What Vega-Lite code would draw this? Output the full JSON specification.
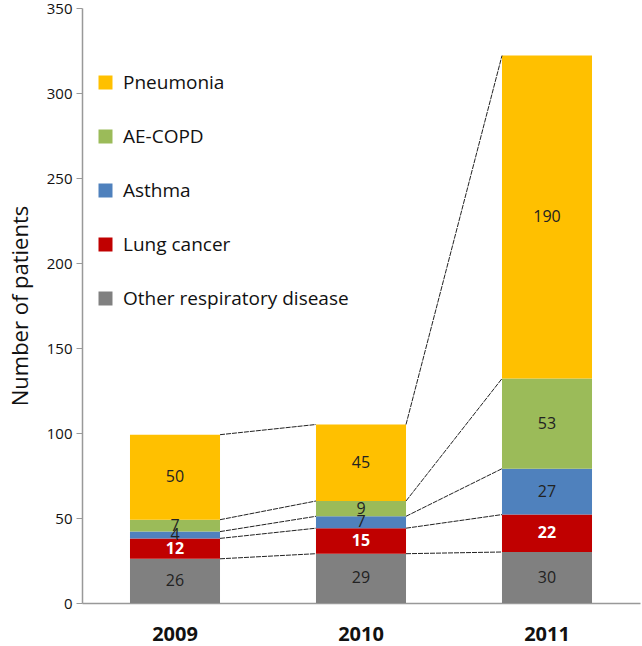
{
  "$schema": "https://vega.github.io/schema/vega-lite/v6.json",
  "width": 558,
  "height": 595,
  "autosize": {"type": "none"},
  "padding": {"left": 82, "top": 8, "right": 2, "bottom": 43},
  "config": {
    "font": "Open Sans",
    "view": {"stroke": null}
  },
  "data": {
    "values": [
      {"year": "2009", "disease": "Other respiratory disease", "patients": 26},
      {"year": "2009", "disease": "Lung cancer", "patients": 12},
      {"year": "2009", "disease": "Asthma", "patients": 4},
      {"year": "2009", "disease": "AE-COPD", "patients": 7},
      {"year": "2009", "disease": "Pneumonia", "patients": 50},
      {"year": "2010", "disease": "Other respiratory disease", "patients": 29},
      {"year": "2010", "disease": "Lung cancer", "patients": 15},
      {"year": "2010", "disease": "Asthma", "patients": 7},
      {"year": "2010", "disease": "AE-COPD", "patients": 9},
      {"year": "2010", "disease": "Pneumonia", "patients": 45},
      {"year": "2011", "disease": "Other respiratory disease", "patients": 30},
      {"year": "2011", "disease": "Lung cancer", "patients": 22},
      {"year": "2011", "disease": "Asthma", "patients": 27},
      {"year": "2011", "disease": "AE-COPD", "patients": 53},
      {"year": "2011", "disease": "Pneumonia", "patients": 190}
    ]
  },
  "transform": [
    {"stack": "patients", "groupby": ["year"], "as": ["y0", "y1"]}
  ],
  "encoding": {
    "x": {
      "field": "year",
      "type": "nominal",
      "scale": {"paddingInner": 0.516, "paddingOuter": 0.258},
      "axis": {
        "title": null,
        "labelAngle": 0,
        "labelFontSize": 20,
        "labelFontWeight": "bold",
        "labelColor": "#111",
        "labelPadding": 21,
        "ticks": false,
        "domainColor": "#999",
        "domainWidth": 1.5
      }
    }
  },
  "layer": [
    {
      "mark": {"type": "bar", "stroke": null},
      "encoding": {
        "y": {
          "field": "y0",
          "type": "quantitative",
          "scale": {"domain": [0, 350]},
          "axis": {
            "title": "Number of patients",
            "titleFontSize": 22,
            "titleFontWeight": "normal",
            "titleColor": "#111",
            "titlePadding": 14,
            "values": [0, 50, 100, 150, 200, 250, 300, 350],
            "labelFontSize": 15,
            "labelColor": "#111",
            "labelPadding": 4,
            "grid": false,
            "tickSize": 6,
            "tickColor": "#999",
            "domainColor": "#999",
            "domainWidth": 1.5
          }
        },
        "y2": {"field": "y1"},
        "color": {
          "field": "disease",
          "type": "nominal",
          "scale": {
            "domain": ["Pneumonia", "AE-COPD", "Asthma", "Lung cancer", "Other respiratory disease"],
            "range": ["#FFC000", "#9BBB59", "#4F81BD", "#C00000", "#808080"]
          },
          "legend": {
            "title": null,
            "orient": "none",
            "legendX": 14,
            "legendY": 65,
            "symbolType": "square",
            "symbolSize": 196,
            "symbolStrokeWidth": 0,
            "labelFontSize": 19,
            "labelColor": "#111",
            "labelOffset": 8,
            "rowPadding": 34,
            "labelLimit": 400
          }
        }
      }
    },
    {
      "transform": [
        {"window": [{"op": "lead", "field": "y1", "as": "nextY"}, {"op": "lead", "field": "year", "as": "nextYear"}], "groupby": ["disease"], "sort": [{"field": "year"}]},
        {"filter": "datum.nextYear != null"}
      ],
      "mark": {"type": "rule", "color": "#222", "strokeWidth": 1, "strokeDash": [5, 1]},
      "encoding": {
        "x": {"field": "year", "type": "nominal", "bandPosition": 1},
        "x2": {"field": "nextYear", "bandPosition": 0},
        "y": {"field": "y1", "type": "quantitative"},
        "y2": {"field": "nextY"}
      }
    },
    {
      "transform": [
        {"fold": ["y0", "y1"], "as": ["edge", "edgeValue"]},
        {"aggregate": [{"op": "mean", "field": "edgeValue", "as": "mid"}], "groupby": ["year", "disease", "patients"]},
        {"filter": "datum.disease !== 'Lung cancer'"}
      ],
      "mark": {"type": "text", "fontSize": 16, "color": "#222"},
      "encoding": {
        "y": {"field": "mid", "type": "quantitative"},
        "text": {"field": "patients", "type": "quantitative"}
      }
    },
    {
      "transform": [
        {"fold": ["y0", "y1"], "as": ["edge", "edgeValue"]},
        {"aggregate": [{"op": "mean", "field": "edgeValue", "as": "mid"}], "groupby": ["year", "disease", "patients"]},
        {"filter": "datum.disease === 'Lung cancer'"}
      ],
      "mark": {"type": "text", "fontSize": 16, "fontWeight": "bold", "color": "white"},
      "encoding": {
        "y": {"field": "mid", "type": "quantitative"},
        "text": {"field": "patients", "type": "quantitative"}
      }
    }
  ]
}
